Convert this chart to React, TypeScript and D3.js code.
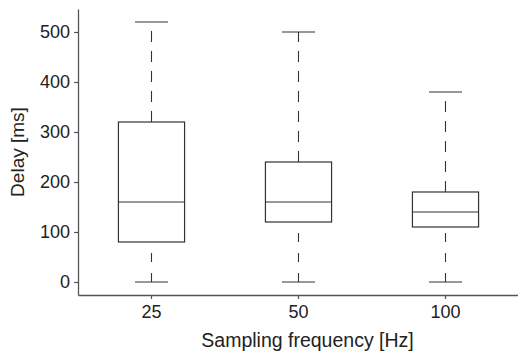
import React, { useEffect, useRef } from 'react'
import * as d3 from 'd3'

// sampling frequency groups and their box statistics (ms)
const categories = ['25', '50', '100']
const whiskerLow = [0, 0, 0]
const q1 = [80, 120, 110]
const median = [160, 160, 140]
const q3 = [320, 240, 180]
const whiskerHigh = [520, 500, 380]
const yTicks = [0, 100, 200, 300, 400, 500]

const W = 518
const H = 357
const margin = { top: 9, right: -1, bottom: 62, left: 78 }
const FONT = '"Liberation Sans", Arial, Helvetica, sans-serif'

export default function App() {
  const ref = useRef<SVGSVGElement>(null)

  useEffect(() => {
    if (!ref.current) return
    const svg = d3.select(ref.current)
    svg.selectAll('*').remove()

    const x = d3.scaleBand<string>()
      .domain(categories)
      .range([margin.left, W - margin.right])
      .padding(0)
    const y = d3.scaleLinear()
      .domain([-26, 546])
      .range([H - margin.bottom, margin.top])

    const bw = x.bandwidth()
    const boxW = bw * 0.45
    const capW = boxW / 2

    const rows = categories.map((c, i) => ({
      c, lo: whiskerLow[i], q1: q1[i], med: median[i], q3: q3[i], hi: whiskerHigh[i]
    }))

    const g = svg.append('g')
    const box = g.selectAll('g.box').data(rows).join('g')
      .attr('class', 'box')
      .attr('transform', d => `translate(${(x(d.c) as number) + bw / 2},0)`)

    const ink = '#333'
    // whiskers, drawn bottom to top with dashes
    box.append('line')
      .attr('x1', 0).attr('x2', 0)
      .attr('y1', d => y(d.lo)).attr('y2', d => y(d.q1))
      .attr('stroke', ink).attr('stroke-width', 1.1)
      .attr('stroke-dasharray', '9,11')
    box.append('line')
      .attr('x1', 0).attr('x2', 0)
      .attr('y1', d => y(d.q3)).attr('y2', d => y(d.hi))
      .attr('stroke', ink).attr('stroke-width', 1.1)
      .attr('stroke-dasharray', '11,9')
    // caps
    box.append('line')
      .attr('x1', -capW / 2).attr('x2', capW / 2)
      .attr('y1', d => y(d.lo)).attr('y2', d => y(d.lo))
      .attr('stroke', ink).attr('stroke-width', 1.2)
    box.append('line')
      .attr('x1', -capW / 2).attr('x2', capW / 2)
      .attr('y1', d => y(d.hi)).attr('y2', d => y(d.hi))
      .attr('stroke', ink).attr('stroke-width', 1.2)
    // box and median
    box.append('rect')
      .attr('x', -boxW / 2).attr('width', boxW)
      .attr('y', d => y(d.q3)).attr('height', d => y(d.q1) - y(d.q3))
      .attr('fill', 'white').attr('stroke', ink).attr('stroke-width', 1.2)
    box.append('line')
      .attr('x1', -boxW / 2).attr('x2', boxW / 2)
      .attr('y1', d => y(d.med)).attr('y2', d => y(d.med))
      .attr('stroke', ink).attr('stroke-width', 1.2)

    // axes
    const yAxis = svg.append('g')
      .attr('transform', `translate(${margin.left},0)`)
      .call(d3.axisLeft(y).tickValues(yTicks).tickSizeInner(4).tickSizeOuter(0).tickPadding(4))
    const xAxis = svg.append('g')
      .attr('transform', `translate(0,${H - margin.bottom})`)
      .call(d3.axisBottom(x).tickSizeInner(4).tickSizeOuter(0).tickPadding(6))

    for (const ax of [yAxis, xAxis]) {
      ax.select('.domain').attr('stroke', '#555').attr('stroke-width', 1.3)
      ax.selectAll('.tick line').attr('stroke', '#555').attr('stroke-width', 1.2)
      ax.selectAll('.tick text')
        .attr('fill', '#222')
        .style('font-family', FONT)
        .style('font-size', '18px')
    }

    // axis titles
    svg.append('text')
      .attr('x', (margin.left + W - margin.right) / 2 + 9)
      .attr('y', 347)
      .attr('text-anchor', 'middle')
      .attr('fill', '#222')
      .style('font-family', FONT)
      .style('font-size', '19.5px')
      .text('Sampling frequency [Hz]')
    svg.append('text')
      .attr('transform', 'translate(24,152) rotate(-90)')
      .attr('text-anchor', 'middle')
      .attr('fill', '#222')
      .style('font-family', FONT)
      .style('font-size', '19px')
      .text('Delay [ms]')
  }, [])

  return (
    <svg
      ref={ref}
      width={W}
      height={H}
      style={{ position: 'absolute', left: 0, top: 0, background: 'white' }}
    />
  )
}
